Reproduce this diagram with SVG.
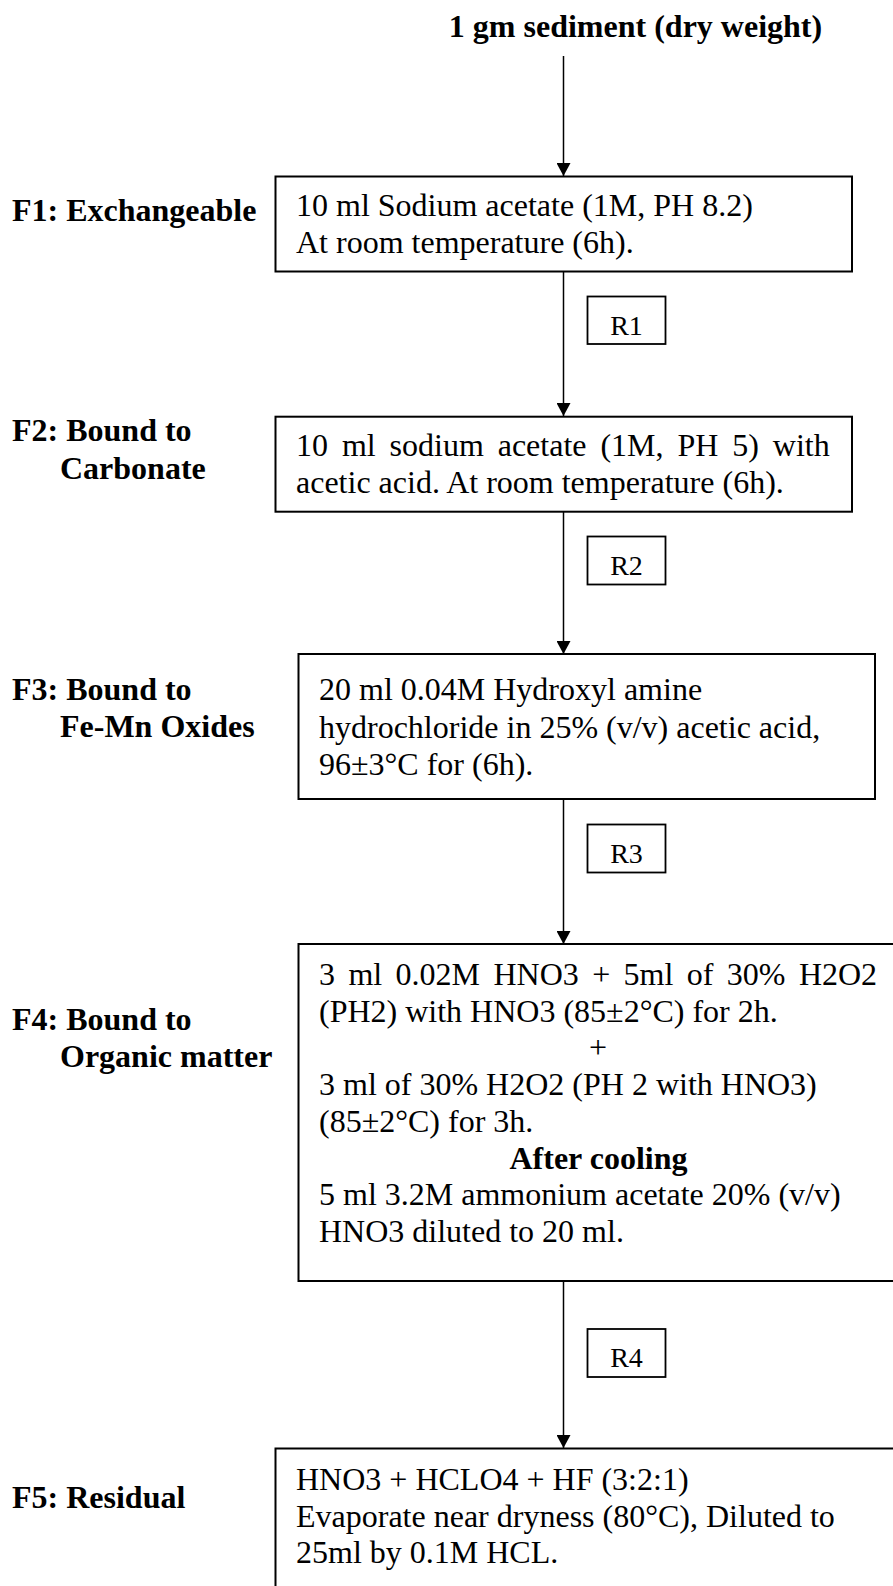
<svg xmlns="http://www.w3.org/2000/svg" width="893" height="1586" viewBox="0 0 893 1586">
<style>
text{font-family:"Liberation Serif","Times New Roman",serif;fill:#000}
.t{font-size:32px}
.b{font-size:32px;font-weight:bold}
.r{font-size:28px}
.box{fill:#fff;stroke:#000;stroke-width:2}
.rbox{fill:#fff;stroke:#000;stroke-width:1.8}
.conn{stroke:#000;stroke-width:1.5;fill:none}
</style>
<defs>
<marker id="ah" viewBox="0 0 13 14" markerWidth="13" markerHeight="14" refX="13" refY="7" orient="auto" markerUnits="userSpaceOnUse">
<path d="M0,0 L13,7 L0,14 z" fill="#000"/>
</marker>
</defs>
<g id="connectors">
<line class="conn" x1="563.5" y1="56" x2="563.5" y2="176" marker-end="url(#ah)"/>
<line class="conn" x1="563.5" y1="272" x2="563.5" y2="416" marker-end="url(#ah)"/>
<line class="conn" x1="563.5" y1="512" x2="563.5" y2="654" marker-end="url(#ah)"/>
<line class="conn" x1="563.5" y1="799" x2="563.5" y2="944" marker-end="url(#ah)"/>
<line class="conn" x1="563.5" y1="1281" x2="563.5" y2="1448" marker-end="url(#ah)"/>
</g>
<g id="start">
<text class="b" x="635.5" y="37" text-anchor="middle">1 gm sediment (dry weight)</text>
</g>
<g id="label-f1"><text class="b" x="12" y="221">F1: Exchangeable</text></g>
<g id="label-f2"><text class="b" x="12" y="441">F2: Bound to</text><text class="b" x="60" y="479">Carbonate</text></g>
<g id="label-f3"><text class="b" x="12" y="700">F3: Bound to</text><text class="b" x="60" y="737">Fe-Mn Oxides</text></g>
<g id="label-f4"><text class="b" x="12" y="1030">F4: Bound to</text><text class="b" x="60" y="1067">Organic matter</text></g>
<g id="label-f5"><text class="b" x="12" y="1508">F5: Residual</text></g>
<g id="f1">
<rect class="box" x="275.5" y="176.5" width="576.5" height="95"/>
<text class="t" x="296" y="216">10 ml Sodium acetate (1M, PH 8.2)</text>
<text class="t" x="296" y="253">At room temperature (6h).</text>
</g>
<g id="r1"><rect class="rbox" x="587.5" y="296.5" width="78" height="47.5"/><text class="r" x="626.5" y="335" text-anchor="middle">R1</text></g>
<g id="f2">
<rect class="box" x="275.5" y="416.7" width="576.5" height="95"/>
<text class="t" x="296" y="456" word-spacing="5.9">10 ml sodium acetate (1M, PH 5) with</text>
<text class="t" x="296" y="492.5">acetic acid. At room temperature (6h).</text>
</g>
<g id="r2"><rect class="rbox" x="587.5" y="536.5" width="78" height="48"/><text class="r" x="626.5" y="575" text-anchor="middle">R2</text></g>
<g id="f3">
<rect class="box" x="298.5" y="654" width="576.5" height="145"/>
<text class="t" x="319" y="700">20 ml 0.04M Hydroxyl amine</text>
<text class="t" x="319" y="737.5">hydrochloride in 25% (v/v) acetic acid,</text>
<text class="t" x="319" y="775">96±3°C for (6h).</text>
</g>
<g id="r3"><rect class="rbox" x="587.5" y="824.5" width="78" height="48"/><text class="r" x="626.5" y="863" text-anchor="middle">R3</text></g>
<g id="f4">
<rect class="box" x="298.5" y="944" width="620" height="337"/>
<text class="t" x="319" y="984.5" word-spacing="5.4">3 ml 0.02M HNO3 + 5ml of 30% H2O2</text>
<text class="t" x="319" y="1021.5">(PH2) with HNO3 (85±2°C) for 2h.</text>
<text class="t" x="598" y="1058" text-anchor="middle">+</text>
<text class="t" x="319" y="1095">3 ml of 30% H2O2 (PH 2 with HNO3)</text>
<text class="t" x="319" y="1132">(85±2°C) for 3h.</text>
<text class="b" x="598.5" y="1168.5" text-anchor="middle">After cooling</text>
<text class="t" x="319" y="1205">5 ml 3.2M ammonium acetate 20% (v/v)</text>
<text class="t" x="319" y="1242">HNO3 diluted to 20 ml.</text>
</g>
<g id="r4"><rect class="rbox" x="587.5" y="1329" width="78" height="48"/><text class="r" x="626.5" y="1367" text-anchor="middle">R4</text></g>
<g id="f5">
<rect class="box" x="275.5" y="1448.5" width="640" height="160"/>
<text class="t" x="296" y="1490">HNO3 + HCLO4 + HF (3:2:1)</text>
<text class="t" x="296" y="1526.5">Evaporate near dryness (80°C), Diluted to</text>
<text class="t" x="296" y="1563">25ml by 0.1M HCL.</text>
</g>
</svg>
